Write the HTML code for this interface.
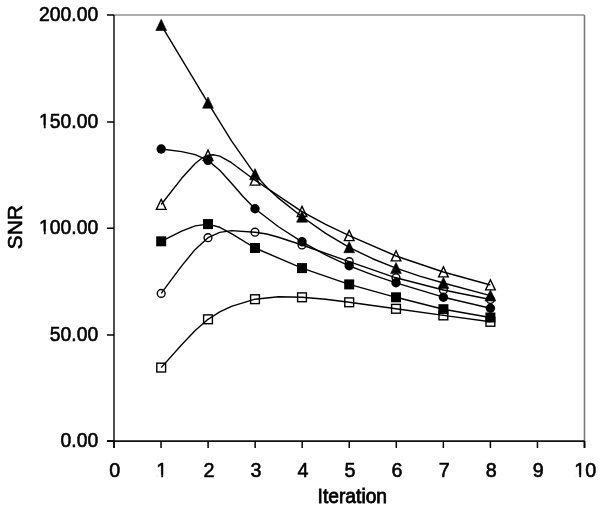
<!DOCTYPE html>
<html><head><meta charset="utf-8"><title>SNR vs Iteration</title>
<style>
html,body{margin:0;padding:0;background:#fff;}
body{width:600px;height:509px;overflow:hidden;}
svg{display:block;will-change:transform;filter:blur(0.35px);}
text{font-family:"Liberation Sans",sans-serif;fill:#000;}
</style></head><body>
<svg width="600" height="509" viewBox="0 0 600 509">

<path d="M114,15 H584.5" fill="none" stroke="#929292" stroke-width="1.6"/>
<path d="M584.5,15 V441" fill="none" stroke="#7a7a7a" stroke-width="1.6"/>
<path d="M114,15 V448" fill="none" stroke="#222" stroke-width="1.6"/>
<path d="M107,441.2 H584.5 M584.5,441 V448" fill="none" stroke="#111" stroke-width="1.7"/>
<path d="M107,441 H114" stroke="#000" stroke-width="1.5"/>
<path d="M107,335 H114" stroke="#000" stroke-width="1.5"/>
<path d="M107,228.2 H114" stroke="#000" stroke-width="1.5"/>
<path d="M107,122 H114" stroke="#000" stroke-width="1.5"/>
<path d="M107,15 H114" stroke="#000" stroke-width="1.5"/>
<path d="M114.00,441 V448" stroke="#000" stroke-width="1.5"/>
<path d="M161.05,441 V448" stroke="#000" stroke-width="1.5"/>
<path d="M208.10,441 V448" stroke="#000" stroke-width="1.5"/>
<path d="M255.15,441 V448" stroke="#000" stroke-width="1.5"/>
<path d="M302.20,441 V448" stroke="#000" stroke-width="1.5"/>
<path d="M349.25,441 V448" stroke="#000" stroke-width="1.5"/>
<path d="M396.30,441 V448" stroke="#000" stroke-width="1.5"/>
<path d="M443.35,441 V448" stroke="#000" stroke-width="1.5"/>
<path d="M490.40,441 V448" stroke="#000" stroke-width="1.5"/>
<path d="M537.45,441 V448" stroke="#000" stroke-width="1.5"/>
<path d="M584.50,441 V448" stroke="#000" stroke-width="1.5"/>
<text transform="translate(98.2,446.7) scale(0.93,1)" font-size="20.8" text-anchor="end" stroke="#000" stroke-width="0.6">0.00</text>
<text transform="translate(98.2,340.7) scale(0.93,1)" font-size="20.8" text-anchor="end" stroke="#000" stroke-width="0.6">50.00</text>
<text transform="translate(98.2,233.9) scale(0.93,1)" font-size="20.8" text-anchor="end" stroke="#000" stroke-width="0.6">100.00</text>
<text transform="translate(98.2,127.7) scale(0.93,1)" font-size="20.8" text-anchor="end" stroke="#000" stroke-width="0.6">150.00</text>
<text transform="translate(98.2,20.7) scale(0.93,1)" font-size="20.8" text-anchor="end" stroke="#000" stroke-width="0.6">200.00</text>
<text transform="translate(114.80,477.3) scale(0.95,1)" font-size="20.8" text-anchor="middle" stroke="#000" stroke-width="0.6">0</text>
<text transform="translate(161.85,477.3) scale(0.95,1)" font-size="20.8" text-anchor="middle" stroke="#000" stroke-width="0.6">1</text>
<text transform="translate(208.90,477.3) scale(0.95,1)" font-size="20.8" text-anchor="middle" stroke="#000" stroke-width="0.6">2</text>
<text transform="translate(255.95,477.3) scale(0.95,1)" font-size="20.8" text-anchor="middle" stroke="#000" stroke-width="0.6">3</text>
<text transform="translate(303.00,477.3) scale(0.95,1)" font-size="20.8" text-anchor="middle" stroke="#000" stroke-width="0.6">4</text>
<text transform="translate(350.05,477.3) scale(0.95,1)" font-size="20.8" text-anchor="middle" stroke="#000" stroke-width="0.6">5</text>
<text transform="translate(397.10,477.3) scale(0.95,1)" font-size="20.8" text-anchor="middle" stroke="#000" stroke-width="0.6">6</text>
<text transform="translate(444.15,477.3) scale(0.95,1)" font-size="20.8" text-anchor="middle" stroke="#000" stroke-width="0.6">7</text>
<text transform="translate(491.20,477.3) scale(0.95,1)" font-size="20.8" text-anchor="middle" stroke="#000" stroke-width="0.6">8</text>
<text transform="translate(538.25,477.3) scale(0.95,1)" font-size="20.8" text-anchor="middle" stroke="#000" stroke-width="0.6">9</text>
<text transform="translate(585.30,477.3) scale(0.95,1)" font-size="20.8" text-anchor="middle" stroke="#000" stroke-width="0.6">10</text>
<rect x="39.79" y="231.35" width="4.04" height="4.55" fill="#fff"/>
<rect x="45.67" y="231.35" width="3.94" height="4.55" fill="#fff"/>
<rect x="39.79" y="125.15" width="4.04" height="4.55" fill="#fff"/>
<rect x="45.67" y="125.15" width="3.94" height="4.55" fill="#fff"/>
<rect x="157.13" y="474.75" width="4.13" height="4.55" fill="#fff"/>
<rect x="163.14" y="474.75" width="4.02" height="4.55" fill="#fff"/>
<rect x="575.08" y="474.75" width="4.13" height="4.55" fill="#fff"/>
<rect x="581.09" y="474.75" width="4.02" height="4.55" fill="#fff"/>
<text transform="translate(352.3,502.6) scale(0.926,1)" font-size="20.8" text-anchor="middle" stroke="#000" stroke-width="0.8">Iteration</text>
<text transform="translate(22.2,227.2) rotate(-90)" font-size="21" text-anchor="middle" stroke="#000" stroke-width="0.6">SNR</text>
<path d="M161.20,25.10 L208.00,102.80 L231.49,140.81 L255.00,174.40 L266.75,187.33 L278.49,198.17 L302.00,216.80 L325.61,233.39 L349.20,247.30 L372.59,258.73 L396.00,268.20 L419.69,276.12 L443.40,283.00 L490.40,295.60" fill="none" stroke="#000" stroke-width="1.4" stroke-linejoin="round"/>
<path d="M161.20,149.00 L181.66,151.68 L195.19,154.69 L208.00,160.40 L219.74,170.24 L231.49,183.19 L243.25,196.83 L255.00,208.70 L278.49,226.77 L302.00,241.80 L325.61,254.81 L349.20,265.80 L372.59,274.90 L396.00,282.80 L443.40,297.20 L490.40,308.30" fill="none" stroke="#000" stroke-width="1.4" stroke-linejoin="round"/>
<path d="M161.20,204.50 L181.66,178.34 L195.19,163.54 L201.82,158.24 L208.00,155.30 L213.87,154.82 L219.74,156.16 L231.49,162.71 L255.00,180.20 L278.49,195.95 L302.00,211.60 L325.61,224.34 L349.20,235.70 L396.00,256.00 L443.40,272.00 L490.40,285.00" fill="none" stroke="#000" stroke-width="1.4" stroke-linejoin="round"/>
<path d="M161.20,241.30 L181.66,231.21 L195.19,225.91 L208.00,224.10 L219.74,227.27 L231.49,233.72 L255.00,248.00 L302.00,268.10 L349.20,284.40 L396.00,297.30 L443.40,309.20 L490.40,317.50" fill="none" stroke="#000" stroke-width="1.4" stroke-linejoin="round"/>
<path d="M161.20,293.40 L181.66,265.89 L195.19,249.40 L208.00,237.70 L219.74,232.37 L231.49,230.67 L255.00,232.20 L266.75,234.02 L278.49,237.22 L302.00,245.00 L349.20,261.60 L396.00,277.80 L443.40,290.00 L490.40,299.50" fill="none" stroke="#000" stroke-width="1.4" stroke-linejoin="round"/>
<path d="M161.20,367.60 L181.66,344.71 L195.19,330.52 L208.00,319.30 L219.74,311.87 L231.49,306.35 L255.00,299.20 L278.49,296.68 L302.00,297.30 L325.61,299.27 L349.20,302.30 L396.00,308.80 L443.40,315.40 L490.40,321.80" fill="none" stroke="#000" stroke-width="1.4" stroke-linejoin="round"/>
<path d="M161.20,19.30 L166.60,30.50 L155.80,30.50Z" fill="#000" stroke="#000" stroke-width="0.6" stroke-linejoin="miter"/>
<path d="M208.00,97.00 L213.40,108.20 L202.60,108.20Z" fill="#000" stroke="#000" stroke-width="0.6" stroke-linejoin="miter"/>
<path d="M255.00,168.60 L260.40,179.80 L249.60,179.80Z" fill="#000" stroke="#000" stroke-width="0.6" stroke-linejoin="miter"/>
<path d="M302.00,211.00 L307.40,222.20 L296.60,222.20Z" fill="#000" stroke="#000" stroke-width="0.6" stroke-linejoin="miter"/>
<path d="M349.20,241.50 L354.60,252.70 L343.80,252.70Z" fill="#000" stroke="#000" stroke-width="0.6" stroke-linejoin="miter"/>
<path d="M396.00,262.40 L401.40,273.60 L390.60,273.60Z" fill="#000" stroke="#000" stroke-width="0.6" stroke-linejoin="miter"/>
<path d="M443.40,277.20 L448.80,288.40 L438.00,288.40Z" fill="#000" stroke="#000" stroke-width="0.6" stroke-linejoin="miter"/>
<path d="M490.40,289.80 L495.80,301.00 L485.00,301.00Z" fill="#000" stroke="#000" stroke-width="0.6" stroke-linejoin="miter"/>
<circle cx="161.20" cy="149.00" r="4.7" fill="#000"/>
<circle cx="208.00" cy="160.40" r="4.7" fill="#000"/>
<circle cx="255.00" cy="208.70" r="4.7" fill="#000"/>
<circle cx="302.00" cy="241.80" r="4.7" fill="#000"/>
<circle cx="349.20" cy="265.80" r="4.7" fill="#000"/>
<circle cx="396.00" cy="282.80" r="4.7" fill="#000"/>
<circle cx="443.40" cy="297.20" r="4.7" fill="#000"/>
<circle cx="490.40" cy="308.30" r="4.7" fill="#000"/>
<path d="M161.20,199.30 L166.00,209.40 L156.40,209.40Z" fill="none" stroke="#000" stroke-width="1.4" stroke-linejoin="miter"/>
<path d="M208.00,150.10 L212.80,160.20 L203.20,160.20Z" fill="none" stroke="#000" stroke-width="1.4" stroke-linejoin="miter"/>
<path d="M255.00,175.00 L259.80,185.10 L250.20,185.10Z" fill="none" stroke="#000" stroke-width="1.4" stroke-linejoin="miter"/>
<path d="M302.00,206.40 L306.80,216.50 L297.20,216.50Z" fill="none" stroke="#000" stroke-width="1.4" stroke-linejoin="miter"/>
<path d="M349.20,230.50 L354.00,240.60 L344.40,240.60Z" fill="none" stroke="#000" stroke-width="1.4" stroke-linejoin="miter"/>
<path d="M396.00,250.80 L400.80,260.90 L391.20,260.90Z" fill="none" stroke="#000" stroke-width="1.4" stroke-linejoin="miter"/>
<path d="M443.40,266.80 L448.20,276.90 L438.60,276.90Z" fill="none" stroke="#000" stroke-width="1.4" stroke-linejoin="miter"/>
<path d="M490.40,279.80 L495.20,289.90 L485.60,289.90Z" fill="none" stroke="#000" stroke-width="1.4" stroke-linejoin="miter"/>
<rect x="156.20" y="236.30" width="10" height="10" fill="#000"/>
<rect x="203.00" y="219.10" width="10" height="10" fill="#000"/>
<rect x="250.00" y="243.00" width="10" height="10" fill="#000"/>
<rect x="297.00" y="263.10" width="10" height="10" fill="#000"/>
<rect x="344.20" y="279.40" width="10" height="10" fill="#000"/>
<rect x="391.00" y="292.30" width="10" height="10" fill="#000"/>
<rect x="438.40" y="304.20" width="10" height="10" fill="#000"/>
<rect x="485.40" y="312.50" width="10" height="10" fill="#000"/>
<circle cx="161.20" cy="293.40" r="3.9" fill="none" stroke="#000" stroke-width="1.4"/>
<circle cx="208.00" cy="237.70" r="3.9" fill="none" stroke="#000" stroke-width="1.4"/>
<circle cx="255.00" cy="232.20" r="3.9" fill="none" stroke="#000" stroke-width="1.4"/>
<circle cx="302.00" cy="245.00" r="3.9" fill="none" stroke="#000" stroke-width="1.4"/>
<circle cx="349.20" cy="261.60" r="3.9" fill="none" stroke="#000" stroke-width="1.4"/>
<circle cx="396.00" cy="277.80" r="3.9" fill="none" stroke="#000" stroke-width="1.4"/>
<circle cx="443.40" cy="290.00" r="3.9" fill="none" stroke="#000" stroke-width="1.4"/>
<circle cx="490.40" cy="299.50" r="3.9" fill="none" stroke="#000" stroke-width="1.4"/>
<rect x="156.80" y="363.20" width="8.8" height="8.8" fill="none" stroke="#000" stroke-width="1.4"/>
<rect x="203.60" y="314.90" width="8.8" height="8.8" fill="none" stroke="#000" stroke-width="1.4"/>
<rect x="250.60" y="294.80" width="8.8" height="8.8" fill="none" stroke="#000" stroke-width="1.4"/>
<rect x="297.60" y="292.90" width="8.8" height="8.8" fill="none" stroke="#000" stroke-width="1.4"/>
<rect x="344.80" y="297.90" width="8.8" height="8.8" fill="none" stroke="#000" stroke-width="1.4"/>
<rect x="391.60" y="304.40" width="8.8" height="8.8" fill="none" stroke="#000" stroke-width="1.4"/>
<rect x="439.00" y="311.00" width="8.8" height="8.8" fill="none" stroke="#000" stroke-width="1.4"/>
<rect x="486.00" y="317.40" width="8.8" height="8.8" fill="none" stroke="#000" stroke-width="1.4"/>
</svg>
</body></html>
